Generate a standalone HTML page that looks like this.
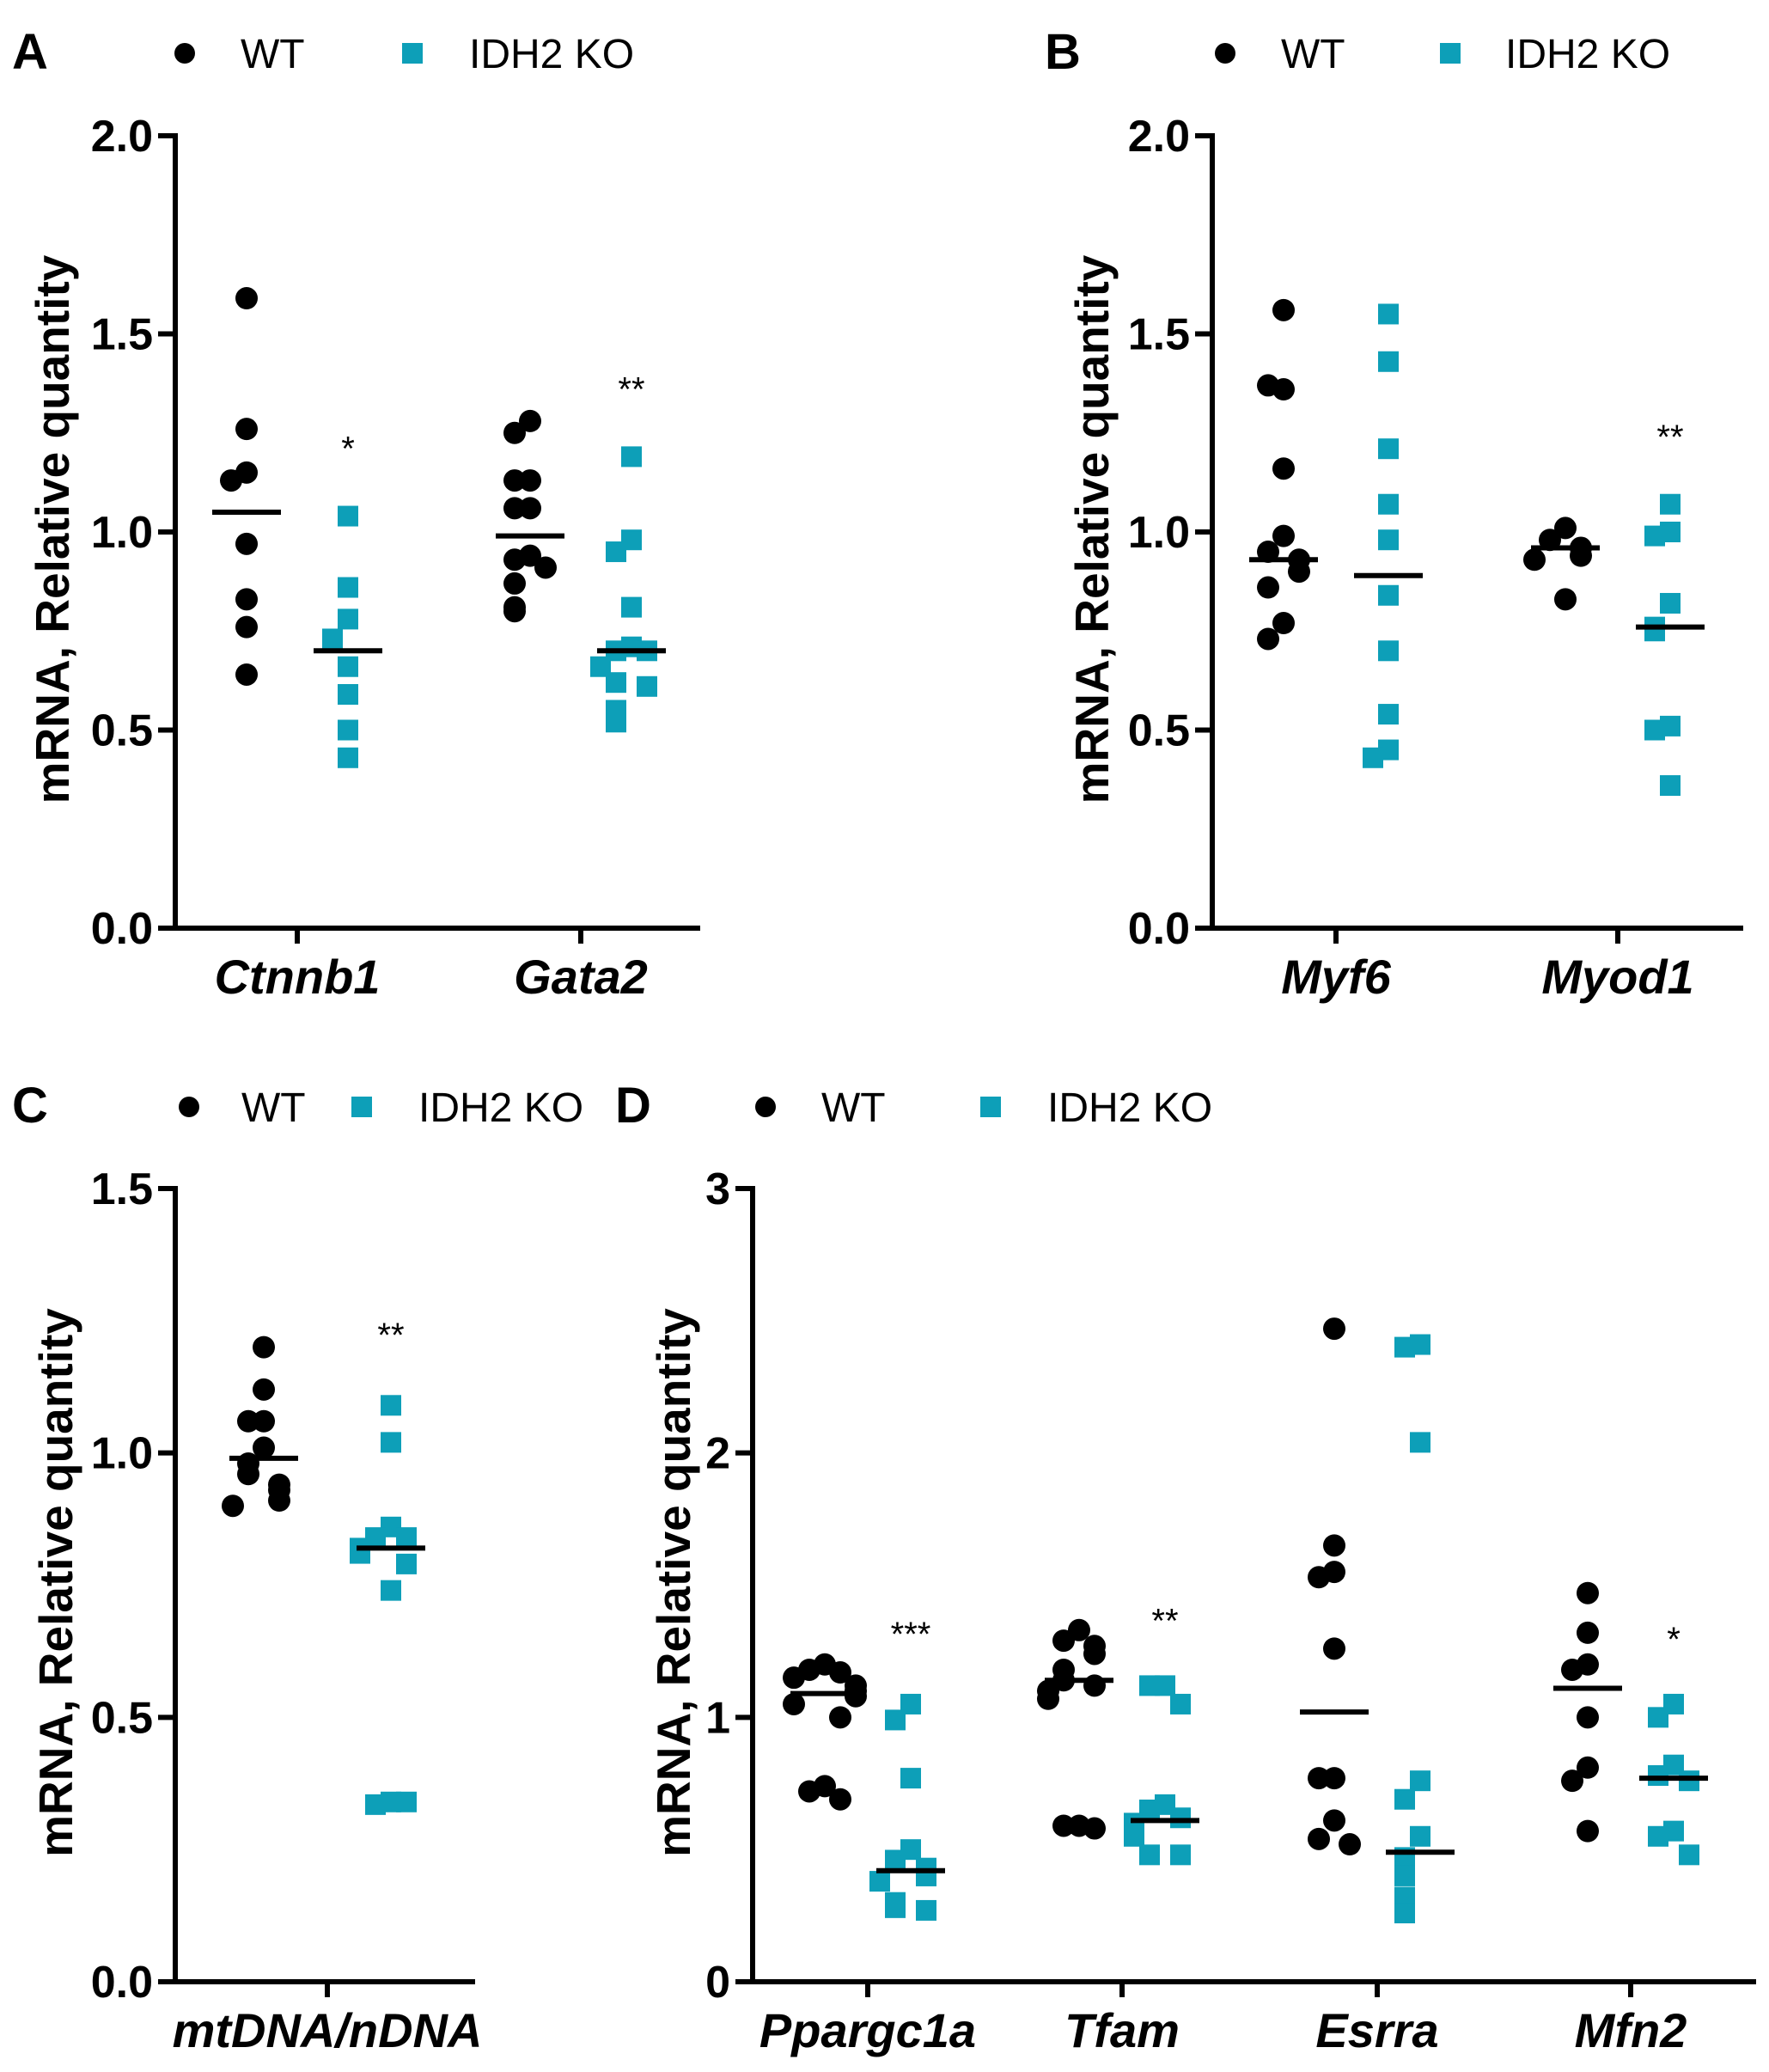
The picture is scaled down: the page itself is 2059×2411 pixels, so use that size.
<!DOCTYPE html>
<html><head><meta charset="utf-8"><style>
html,body{margin:0;padding:0;background:#fff;}
svg{display:block;font-family:"Liberation Sans",Arial,sans-serif;}
</style></head><body>
<svg id="fig" width="2059" height="2411" viewBox="0 0 2059 2411" xmlns="http://www.w3.org/2000/svg"></svg>
<script>
// ---- data ----
const catsA = ["Ctnnb1","Gata2"];
const wtA = [[1.59,1.26,1.15,1.13,0.97,0.83,0.76,0.64],[1.28,1.25,1.13,1.13,1.06,1.06,0.94,0.93,0.91,0.87,0.81,0.80]];
const koA = [[1.04,0.86,0.78,0.73,0.66,0.59,0.50,0.43],[1.19,0.98,0.95,0.81,0.71,0.70,0.70,0.66,0.62,0.61,0.55,0.52]];
const meanWtA = [1.05,0.99];
const meanKoA = [0.70,0.70];
const sigA = ["*","**"];
const sigYA = [1.22,1.37];

const catsB = ["Myf6","Myod1"];
const wtB = [[1.56,1.36,1.37,1.16,0.99,0.95,0.93,0.90,0.86,0.77,0.73],[1.01,0.98,0.96,0.94,0.93,0.83]];
const koB = [[1.55,1.43,1.21,1.07,0.98,0.84,0.70,0.54,0.45,0.43],[1.07,1.00,0.99,0.82,0.76,0.75,0.51,0.50,0.36]];
const meanWtB = [0.93,0.96];
const meanKoB = [0.89,0.76];
const sigB = ["","**"];
const sigYB = [0,1.25];

const catsC = ["mtDNA/nDNA"];
const wtC = [[1.20,1.12,1.06,1.06,1.01,0.98,0.96,0.94,0.93,0.91,0.90]];
const koC = [[1.09,1.02,0.86,0.84,0.84,0.82,0.81,0.79,0.74,0.34,0.335,0.34]];
const meanWtC = [0.99];
const meanKoC = [0.82];
const sigC = ["**"];
const sigYC = [1.23];

const catsD = ["Ppargc1a","Tfam","Esrra","Mfn2"];
const wtD = [[1.20,1.18,1.17,1.15,1.12,1.10,1.08,1.05,1.00,0.74,0.72,0.69],[1.33,1.29,1.27,1.24,1.18,1.14,1.12,1.10,1.07,0.59,0.59,0.58],[2.47,1.65,1.55,1.53,1.26,0.77,0.77,0.61,0.54,0.52],[1.47,1.32,1.20,1.18,1.00,0.81,0.76,0.57]];
const koD = [[1.05,0.99,0.77,0.50,0.46,0.43,0.40,0.38,0.30,0.28,0.27],[1.12,1.12,1.05,0.67,0.65,0.62,0.60,0.58,0.55,0.48,0.48],[2.41,2.40,2.04,0.76,0.69,0.55,0.47,0.40,0.32,0.26],[1.05,1.00,0.82,0.78,0.76,0.57,0.55,0.48]];
const meanWtD = [1.09,1.14,1.02,1.11];
const meanKoD = [0.42,0.61,0.49,0.77];
const sigD = ["***","**","","*"];
const sigYD = [1.33,1.38,0,1.31];

const ticksAB = [0,0.5,1.0,1.5,2.0];
const ticksC = [0,0.5,1.0,1.5];
const ticksD = [0,1,2,3];

// ---- drawing ----
const NS="http://www.w3.org/2000/svg";
const svg=document.getElementById('fig');
function mk(tag,attrs,parent){const e=document.createElementNS(NS,tag);for(const k in attrs)e.setAttribute(k,attrs[k]);(parent||svg).appendChild(e);return e;}
const TEAL="#0d9fb8";

function panel(cfg){
  const g=mk('g',{});
  
  
  const y=v=>cfg.yBot-(v/cfg.max)*(cfg.yBot-cfg.yTop);
  const L=mk('text',{x:cfg.letterX,y:cfg.legY+18,'font-size':58,'font-weight':'bold'},g);L.textContent=cfg.letter;
  
  
  const lg=mk('g',{},g);
  
  
  mk('circle',{cx:cfg.leg[0],cy:cfg.legY,r:12,fill:'#000'},lg);
  let t=mk('text',{x:cfg.leg[1],y:cfg.legY+17,'font-size':48},lg);t.textContent='WT';
  mk('rect',{x:cfg.leg[2]-12,y:cfg.legY-12,width:24,height:24,fill:TEAL},lg);
  t=mk('text',{x:cfg.leg[3],y:cfg.legY+17,'font-size':48},lg);t.textContent='IDH2 KO';
  const ax=mk('g',{stroke:'#000','stroke-width':6,fill:'none'},g);
  
  
  mk('line',{x1:cfg.axL,y1:cfg.yTop-3,x2:cfg.axL,y2:cfg.yBot+3},ax);
  mk('line',{x1:cfg.axL-20,y1:cfg.yBot,x2:cfg.axR,y2:cfg.yBot},ax);
  cfg.ticks.forEach(v=>{
    mk('line',{x1:cfg.axL-20,y1:y(v),x2:cfg.axL,y2:y(v)},ax);
    const tl=mk('text',{x:cfg.axL-26,y:y(v)+18,'font-size':52,'font-weight':'bold','text-anchor':'end'},g);
    tl.textContent=cfg.dec?v.toFixed(1):String(v);
    
    
  });
  const cy=(cfg.yTop+cfg.yBot)/2-3;
  const yt=mk('text',{x:cfg.titleX,y:cy,'font-size':55,'font-weight':'bold','text-anchor':'middle',transform:`rotate(-90 ${cfg.titleX} ${cy})`},g);
  yt.textContent='mRNA, Relative quantity';
  
  
  cfg.cats.forEach((c,i)=>{
    const cx=cfg.cx[i];
    mk('line',{x1:cx,y1:cfg.yBot,x2:cx,y2:cfg.yBot+18},ax);
    const cl=mk('text',{x:cx,y:cfg.yBot+76,'font-size':56,'font-weight':'bold','font-style':'italic','text-anchor':'middle'},g);
    cl.textContent=c;
    
    
    [[cfg.wt[i],-1,'wt'],[cfg.ko[i],1,'ko']].forEach(([vals,side,grp])=>{
      const gx=cx+side*cfg.off;
      const placed=[];
      vals.forEach(v=>{
        const near=placed.filter(p=>Math.abs(p-v)<0.06*cfg.max/2).length;
        const j=[0,-1,1,-2,2][near%5]*18;
        placed.push(v);
        let m;
        if(grp==='wt'){m=mk('circle',{cx:gx+j,cy:y(v),r:13,fill:'#000'},g);}
        else{m=mk('rect',{x:gx+j-12,y:y(v)-12,width:24,height:24,fill:TEAL},g);}
        
        
      });
      const mv=grp==='wt'?cfg.mwt[i]:cfg.mko[i];
      const ml=mk('line',{x1:gx-40,y1:y(mv),x2:gx+40,y2:y(mv),stroke:'#000','stroke-width':6},g);
      
      
    });
    if(cfg.sig[i]){
      const s=mk('text',{x:cx+cfg.off,y:y(cfg.sigY[i])+18,'font-size':40,'text-anchor':'middle'},g);
      s.textContent=cfg.sig[i];
      
      
    }
  });
}
panel({letter:'A',letterX:14,legY:62,leg:[215,280,480,546],axL:204,axR:815,yTop:158,yBot:1080,max:2,ticks:ticksAB,dec:true,titleX:80,cats:catsA,cx:[346,676],off:59,wt:wtA,ko:koA,mwt:meanWtA,mko:meanKoA,sig:sigA,sigY:sigYA});
panel({letter:'B',letterX:1216,legY:62,leg:[1426,1491,1688,1752],axL:1411,axR:2029,yTop:158,yBot:1080,max:2,ticks:ticksAB,dec:true,titleX:1290,cats:catsB,cx:[1555,1883],off:61,wt:wtB,ko:koB,mwt:meanWtB,mko:meanKoB,sig:sigB,sigY:sigYB});
panel({letter:'C',letterX:14,legY:1288,leg:[220,281,421,487],axL:204,axR:553,yTop:1383,yBot:2306,max:1.5,ticks:ticksC,dec:true,titleX:84,cats:catsC,cx:[381],off:74,wt:wtC,ko:koC,mwt:meanWtC,mko:meanKoC,sig:sigC,sigY:sigYC});
panel({letter:'D',letterX:716,legY:1288,leg:[891,956,1153,1219],axL:876,axR:2044,yTop:1383,yBot:2306,max:3,ticks:ticksD,dec:false,titleX:803,cats:catsD,cx:[1010,1306,1603,1898],off:50,wt:wtD,ko:koD,mwt:meanWtD,mko:meanKoD,sig:sigD,sigY:sigYD});
</script>
</body></html>
